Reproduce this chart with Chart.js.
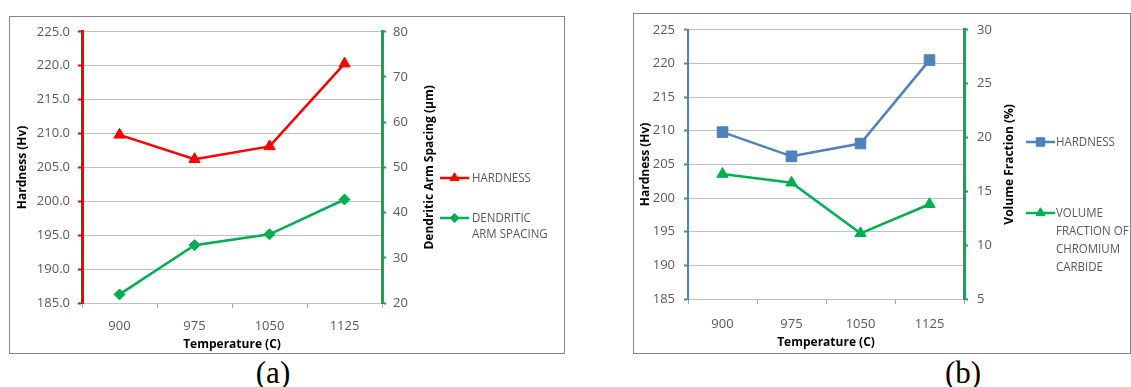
<!DOCTYPE html>
<html>
<head>
<meta charset="utf-8">
<script src="https://cdn.jsdelivr.net/npm/chart.js@4"></script>
<style>
  body { margin: 0; background: #fff; width: 1131px; height: 387px; position: relative; overflow: hidden; }
  canvas { position: absolute; }
  .cap { position: absolute; font-family: "Liberation Serif", "Times New Roman", serif; font-size: 31px; color: #000; transform: translate(-50%, -50%); line-height: 1; }
</style>
</head>
<body>
<canvas id="chartA" width="556" height="338" style="left:9px;top:16px"></canvas>
<canvas id="chartB" width="498" height="341" style="left:633px;top:13px"></canvas>
<div class="cap" style="left:273px;top:372px">(a)</div>
<div class="cap" style="left:963px;top:372px">(b)</div>
<script>
// data
const temperatures = ['900', '975', '1050', '1125'];
const hardnessA = [209.8, 206.2, 208.1, 220.3];
const armSpacing = [21.9, 32.8, 35.2, 42.9];
const hardnessB = [209.8, 206.2, 208.1, 220.5];
const volumeFraction = [16.6, 15.8, 11.1, 13.8];
const legendA = [['HARDNESS'], ['DENDRITIC', 'ARM SPACING']];
const legendB = [['HARDNESS'], ['VOLUME', 'FRACTION OF', 'CHROMIUM', 'CARBIDE']];

const FONT = '"Open Sans", "Noto Sans", sans-serif';
const tickGrey = '#595959';
const gridGrey = '#c0c0c0';
const red = '#ff0000';
const green = '#00b050';
const blue = '#4f81bd';

// border round each chart, side legend and the right-hand axis title
const extras = {
    id: 'extras',
    beforeDraw(chart) {
        const ctx = chart.ctx;
        ctx.save();
        ctx.fillStyle = '#fff';
        ctx.fillRect(0, 0, chart.width, chart.height);
        ctx.strokeStyle = '#868686';
        ctx.lineWidth = 1;
        ctx.strokeRect(0.5, 0.5, chart.width - 1, chart.height - 1);
        ctx.restore();
    },
    afterDraw(chart, args, opts) {
        const ctx = chart.ctx;
        ctx.save();
        // right axis title, read bottom to top
        const ry = chart.scales.y1;
        ctx.font = 'bold 12px ' + FONT;
        ctx.fillStyle = '#000';
        ctx.textAlign = 'center';
        ctx.textBaseline = 'middle';
        ctx.translate(ry.left + opts.titleOffset, (chart.chartArea.top + chart.chartArea.bottom) / 2);
        ctx.rotate(-Math.PI / 2);
        ctx.fillText(opts.rightTitle, 0, 0);
        ctx.restore();

        ctx.save();
        ctx.textAlign = 'left';
        ctx.textBaseline = 'middle';
        chart.data.datasets.forEach((ds, i) => {
            const y = opts.itemY[i];
            ctx.strokeStyle = ds.borderColor;
            ctx.lineWidth = ds.borderWidth;
            ctx.beginPath();
            ctx.moveTo(opts.x0, y);
            ctx.lineTo(opts.x1, y);
            ctx.stroke();
            ctx.fillStyle = ds.backgroundColor;
            ctx.lineWidth = 1;
            Chart.helpers.drawPoint(ctx, { pointStyle: ds.pointStyle, radius: ds.pointRadius * 0.8, rotation: 0, borderWidth: 1 }, (opts.x0 + opts.x1) / 2, y);
            // slightly narrowed text, closer to the original's condensed face
            ctx.fillStyle = tickGrey;
            ctx.font = '12.5px ' + FONT;
            opts.lines[i].forEach((t, j) => {
                ctx.save();
                ctx.translate(opts.tx, y + j * opts.lineGap);
                ctx.scale(0.92, 1);
                ctx.fillText(t, 0, 0);
                ctx.restore();
            });
        });
        ctx.restore();
    }
};

function yAxis(pos, color, min, max, step, width, pad, fmt, bw) {
    return {
        type: 'linear',
        position: pos,
        min: min, max: max,
        afterFit: s => { s.width = width; },
        ticks: { stepSize: step, color: tickGrey, padding: pad, font: { family: FONT, size: 13 }, callback: fmt },
        grid: { color: gridGrey, tickColor: color, tickLength: 4, drawOnChartArea: pos === 'left', lineWidth: 1, tickWidth: 2 },
        border: { color: color, width: bw }
    };
}

function xAxis(height, pad, titlePad) {
    return {
        type: 'category',
        offset: true,
        afterFit: s => { s.height = height; },
        ticks: { color: tickGrey, padding: pad, font: { family: FONT, size: 13 } },
        grid: { display: true, drawOnChartArea: false, tickColor: '#a6a6a6', tickLength: 5, offset: true },
        border: { color: gridGrey, width: 1 },
        title: { display: true, text: 'Temperature (C)', color: '#000', font: { family: FONT, size: 12, weight: 'bold' }, padding: { top: 0, bottom: titlePad } }
    };
}

function series(label, values, color, style, radius, axis) {
    return {
        label: label,
        data: values,
        yAxisID: axis,
        borderColor: color,
        backgroundColor: color,
        borderWidth: 2.5,
        pointStyle: style,
        pointRadius: radius,
        pointBorderWidth: 1,
        tension: 0
    };
}

new Chart(document.getElementById('chartA'), {
    type: 'line',
    data: {
        labels: temperatures,
        datasets: [
            series('HARDNESS', hardnessA, red, 'triangle', 6.5, 'y'),
            series('DENDRITIC ARM SPACING', armSpacing, green, 'rectRot', 5.5, 'y1')
        ]
    },
    options: {
        responsive: false,
        animation: false,
        layout: { padding: { left: 0, top: 11, right: 123, bottom: 0 } },
        scales: {
            x: xAxis(51, 10, 2),
            y: Object.assign(yAxis('left', red, 185, 225, 5, 73, 8, v => v.toFixed(1), 3),
                { title: { display: true, text: 'Hardness (Hv)', color: '#000', font: { family: FONT, size: 12, weight: 'bold' }, padding: { top: 6, bottom: 0 } } }),
            y1: yAxis('right', green, 20, 80, 10, 60, 7, v => v, 3)
        },
        plugins: {
            legend: { display: false },
            tooltip: { enabled: false },
            extras: { rightTitle: 'Dendritic Arm Spacing (µm)', titleOffset: 48, x0: 431, x1: 460, tx: 463, itemY: [162, 202], lineGap: 16, lines: legendA }
        }
    },
    plugins: [extras]
});

new Chart(document.getElementById('chartB'), {
    type: 'line',
    data: {
        labels: temperatures,
        datasets: [
            series('HARDNESS', hardnessB, blue, 'rect', 7.5, 'y'),
            series('VOLUME FRACTION OF CHROMIUM CARBIDE', volumeFraction, green, 'triangle', 6.5, 'y1')
        ]
    },
    options: {
        responsive: false,
        animation: false,
        layout: { padding: { left: 0, top: 12, right: 107, bottom: 0 } },
        scales: {
            x: xAxis(55, 12, 4),
            y: Object.assign(yAxis('left', blue, 185, 225, 5, 55, 9, v => v, 2),
                { title: { display: true, text: 'Hardness (Hv)', color: '#000', font: { family: FONT, size: 12, weight: 'bold' }, padding: { top: 5, bottom: 0 } } }),
            y1: yAxis('right', green, 5, 30, 5, 60, 9, v => v, 3)
        },
        plugins: {
            legend: { display: false },
            tooltip: { enabled: false },
            extras: { rightTitle: 'Volume Fraction (%)', titleOffset: 46, x0: 393, x1: 422, tx: 423, itemY: [129, 200], lineGap: 18, lines: legendB }
        }
    },
    plugins: [extras]
});
</script>
</body>
</html>
